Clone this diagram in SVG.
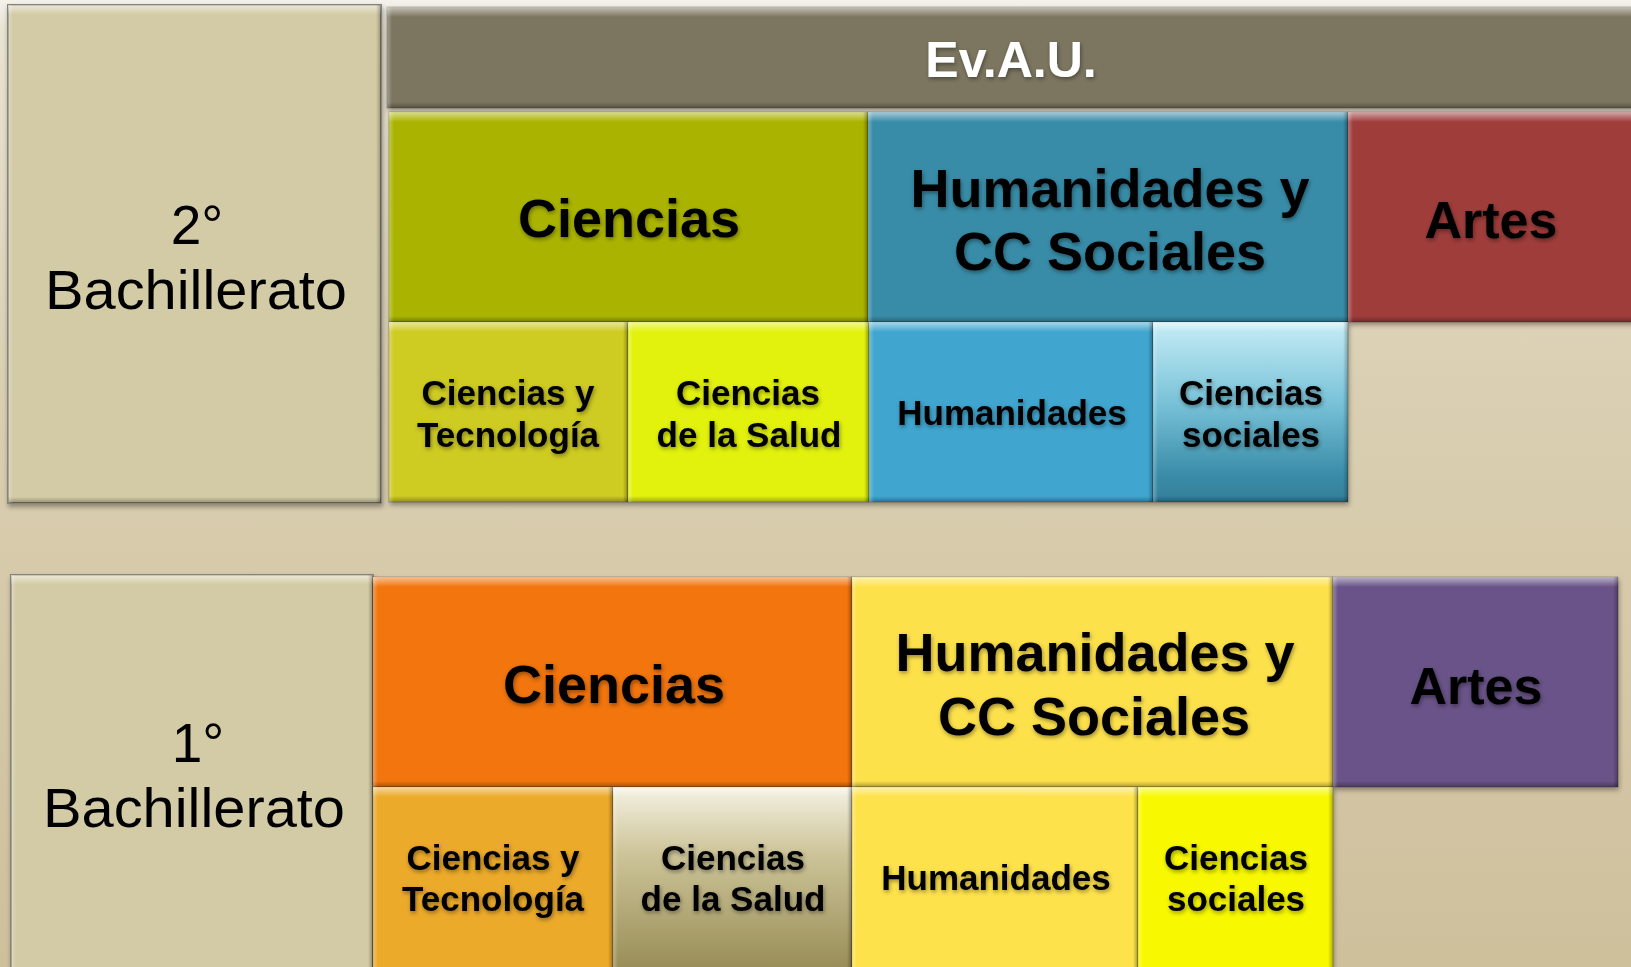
<svg xmlns="http://www.w3.org/2000/svg" width="1631" height="967" viewBox="0 0 1631 967">
<defs>
<linearGradient id="bg" x1="0" y1="0" x2="0" y2="1">
<stop offset="0" stop-color="#f5f2ec"/><stop offset="0.03" stop-color="#e9e3d2"/><stop offset="0.4" stop-color="#dacfb2"/><stop offset="1" stop-color="#cfc09c"/>
</linearGradient>
<linearGradient id="hiT" x1="0" y1="0" x2="0" y2="1"><stop offset="0" stop-color="#fff" stop-opacity="0.55"/><stop offset="1" stop-color="#fff" stop-opacity="0"/></linearGradient>
<linearGradient id="shB" x1="0" y1="0" x2="0" y2="1"><stop offset="0" stop-color="#000" stop-opacity="0"/><stop offset="1" stop-color="#000" stop-opacity="0.3"/></linearGradient>
<linearGradient id="hiL" x1="0" y1="0" x2="1" y2="0"><stop offset="0" stop-color="#fff" stop-opacity="0.3"/><stop offset="1" stop-color="#fff" stop-opacity="0"/></linearGradient>
<linearGradient id="shR" x1="0" y1="0" x2="1" y2="0"><stop offset="0" stop-color="#000" stop-opacity="0"/><stop offset="1" stop-color="#000" stop-opacity="0.28"/></linearGradient>
<linearGradient id="gSoc2" x1="0" y1="0" x2="0" y2="1"><stop offset="0" stop-color="#c6ecf5"/><stop offset="0.45" stop-color="#78c2d8"/><stop offset="0.85" stop-color="#3a8ca8"/><stop offset="1" stop-color="#347f98"/></linearGradient>
<linearGradient id="gSal1" x1="0" y1="0" x2="0" y2="1"><stop offset="0" stop-color="#f4f1e2"/><stop offset="0.35" stop-color="#cdc499"/><stop offset="1" stop-color="#958a52"/></linearGradient>
<filter id="ds" x="-5%" y="-5%" width="110%" height="115%"><feDropShadow dx="1" dy="3" stdDeviation="2.5" flood-color="#000" flood-opacity="0.35"/></filter>
<filter id="ts" x="-10%" y="-20%" width="120%" height="150%"><feDropShadow dx="1" dy="2" stdDeviation="2" flood-color="#000" flood-opacity="0.4"/></filter>
</defs>
<style>
.box{stroke:#000;stroke-opacity:0.22;stroke-width:1;filter:url(#ds)}
.bbox{stroke:#85837a;stroke-width:2;filter:url(#ds)}
.big{font-family:"Liberation Sans",Arial,sans-serif;font-weight:bold;font-size:54px;text-anchor:middle;fill:#000;filter:url(#ts)}
.sub{font-family:"Liberation Sans",Arial,sans-serif;font-weight:bold;font-size:35px;text-anchor:middle;fill:#000;filter:url(#ts)}
.ev{font-family:"Liberation Sans",Arial,sans-serif;font-weight:bold;font-size:50px;text-anchor:middle;fill:#fff;filter:url(#ts)}
.bach{font-family:"Liberation Sans",Arial,sans-serif;font-weight:normal;font-size:55px;text-anchor:middle;fill:#000}
</style>
<rect x="0" y="0" width="1631" height="967" fill="url(#bg)"/>

<g id="bach2">
<rect class="bbox" x="8" y="5" width="373" height="498" fill="#d3cba5"/>
<rect x="8" y="5" width="373" height="10" fill="url(#hiT)"/><rect x="8" y="497" width="373" height="6" fill="url(#shB)"/><rect x="8" y="5" width="5" height="498" fill="url(#hiL)"/><rect x="376" y="5" width="5" height="498" fill="url(#shR)"/>
<text class="bach" x="197" y="244">2°</text>
<text class="bach" x="196" y="309" textLength="302" lengthAdjust="spacingAndGlyphs">Bachillerato</text>
</g>

<g id="evau">
<rect class="box" x="387" y="7" width="1250" height="101" fill="#7b7661"/>
<rect x="387" y="7" width="1250" height="10" fill="url(#hiT)"/><rect x="387" y="102" width="1250" height="6" fill="url(#shB)"/><rect x="387" y="7" width="5" height="101" fill="url(#hiL)"/>
<text class="ev" x="1011" y="77">Ev.A.U.</text>
</g>

<g id="ciencias2">
<rect class="box" x="389" y="112" width="479" height="210" fill="#aab405"/>
<rect x="389" y="112" width="479" height="10" fill="url(#hiT)"/><rect x="389" y="316" width="479" height="6" fill="url(#shB)"/><rect x="389" y="112" width="5" height="210" fill="url(#hiL)"/><rect x="863" y="112" width="5" height="210" fill="url(#shR)"/>
<text class="big" x="629" y="237">Ciencias</text>
</g>

<g id="human2">
<rect class="box" x="868" y="112" width="480" height="210" fill="#388ca8"/>
<rect x="868" y="112" width="480" height="10" fill="url(#hiT)"/><rect x="868" y="316" width="480" height="6" fill="url(#shB)"/><rect x="868" y="112" width="5" height="210" fill="url(#hiL)"/><rect x="1343" y="112" width="5" height="210" fill="url(#shR)"/>
<text class="big" x="1110" y="207">Humanidades y</text>
<text class="big" x="1110" y="270">CC Sociales</text>
</g>

<g id="artes2">
<rect class="box" x="1348" y="112" width="289" height="210" fill="#9f3c3b"/>
<rect x="1348" y="112" width="289" height="10" fill="url(#hiT)"/><rect x="1348" y="316" width="289" height="6" fill="url(#shB)"/><rect x="1348" y="112" width="5" height="210" fill="url(#hiL)"/>
<text class="big" x="1491" y="238" style="font-size:52px">Artes</text>
</g>

<g id="ctec2">
<rect class="box" x="389" y="322" width="239" height="180" fill="#cecb20"/>
<rect x="389" y="322" width="239" height="10" fill="url(#hiT)"/><rect x="389" y="496" width="239" height="6" fill="url(#shB)"/><rect x="389" y="322" width="5" height="180" fill="url(#hiL)"/><rect x="623" y="322" width="5" height="180" fill="url(#shR)"/>
<text class="sub" x="508" y="405">Ciencias y</text>
<text class="sub" x="508" y="447">Tecnología</text>
</g>

<g id="csal2">
<rect class="box" x="628" y="322" width="241" height="180" fill="#e2f208"/>
<rect x="628" y="322" width="241" height="10" fill="url(#hiT)"/><rect x="628" y="496" width="241" height="6" fill="url(#shB)"/><rect x="628" y="322" width="5" height="180" fill="url(#hiL)"/><rect x="864" y="322" width="5" height="180" fill="url(#shR)"/>
<text class="sub" x="748" y="405">Ciencias</text>
<text class="sub" x="749" y="447">de la Salud</text>
</g>

<g id="hum2">
<rect class="box" x="869" y="322" width="284" height="180" fill="#41a6cf"/>
<rect x="869" y="322" width="284" height="10" fill="url(#hiT)"/><rect x="869" y="496" width="284" height="6" fill="url(#shB)"/><rect x="869" y="322" width="5" height="180" fill="url(#hiL)"/><rect x="1148" y="322" width="5" height="180" fill="url(#shR)"/>
<text class="sub" x="1012" y="425">Humanidades</text>
</g>

<g id="csoc2">
<rect class="box" x="1153" y="322" width="195" height="180" fill="url(#gSoc2)"/>
<rect x="1153" y="322" width="195" height="10" fill="url(#hiT)"/><rect x="1153" y="496" width="195" height="6" fill="url(#shB)"/><rect x="1153" y="322" width="5" height="180" fill="url(#hiL)"/><rect x="1343" y="322" width="5" height="180" fill="url(#shR)"/>
<text class="sub" x="1251" y="405">Ciencias</text>
<text class="sub" x="1251" y="447">sociales</text>
</g>

<g id="bach1">
<rect class="bbox" x="11" y="575" width="362" height="400" fill="#d3cba5"/>
<rect x="11" y="575" width="362" height="10" fill="url(#hiT)"/><rect x="11" y="575" width="5" height="400" fill="url(#hiL)"/><rect x="368" y="575" width="5" height="400" fill="url(#shR)"/>
<text class="bach" x="198" y="762">1°</text>
<text class="bach" x="194" y="827" textLength="302" lengthAdjust="spacingAndGlyphs">Bachillerato</text>
</g>

<g id="ciencias1">
<rect class="box" x="373" y="577" width="479" height="210" fill="#f27511"/>
<rect x="373" y="577" width="479" height="10" fill="url(#hiT)"/><rect x="373" y="781" width="479" height="6" fill="url(#shB)"/><rect x="373" y="577" width="5" height="210" fill="url(#hiL)"/><rect x="847" y="577" width="5" height="210" fill="url(#shR)"/>
<text class="big" x="614" y="703">Ciencias</text>
</g>

<g id="human1">
<rect class="box" x="852" y="577" width="481" height="210" fill="#fde14b"/>
<rect x="852" y="577" width="481" height="10" fill="url(#hiT)"/><rect x="852" y="781" width="481" height="6" fill="url(#shB)"/><rect x="852" y="577" width="5" height="210" fill="url(#hiL)"/><rect x="1328" y="577" width="5" height="210" fill="url(#shR)"/>
<text class="big" x="1095" y="671">Humanidades y</text>
<text class="big" x="1094" y="735">CC Sociales</text>
</g>

<g id="artes1">
<rect class="box" x="1333" y="577" width="285" height="210" fill="#695388"/>
<rect x="1333" y="577" width="285" height="10" fill="url(#hiT)"/><rect x="1333" y="781" width="285" height="6" fill="url(#shB)"/><rect x="1333" y="577" width="5" height="210" fill="url(#hiL)"/><rect x="1613" y="577" width="5" height="210" fill="url(#shR)"/>
<text class="big" x="1476" y="704" style="font-size:52px">Artes</text>
</g>

<g id="ctec1">
<rect class="box" x="373" y="787" width="240" height="190" fill="#ecaa2b"/>
<rect x="373" y="787" width="240" height="10" fill="url(#hiT)"/><rect x="373" y="787" width="5" height="190" fill="url(#hiL)"/><rect x="608" y="787" width="5" height="190" fill="url(#shR)"/>
<text class="sub" x="493" y="870">Ciencias y</text>
<text class="sub" x="493" y="911">Tecnología</text>
</g>

<g id="csal1">
<rect class="box" x="613" y="787" width="239" height="190" fill="url(#gSal1)"/>
<rect x="613" y="787" width="239" height="10" fill="url(#hiT)"/><rect x="613" y="787" width="5" height="190" fill="url(#hiL)"/><rect x="847" y="787" width="5" height="190" fill="url(#shR)"/>
<text class="sub" x="733" y="870">Ciencias</text>
<text class="sub" x="733" y="911">de la Salud</text>
</g>

<g id="hum1">
<rect class="box" x="852" y="787" width="286" height="190" fill="#fee24c"/>
<rect x="852" y="787" width="286" height="10" fill="url(#hiT)"/><rect x="852" y="787" width="5" height="190" fill="url(#hiL)"/><rect x="1133" y="787" width="5" height="190" fill="url(#shR)"/>
<text class="sub" x="996" y="890">Humanidades</text>
</g>

<g id="csoc1">
<rect class="box" x="1138" y="787" width="195" height="190" fill="#f8f902"/>
<rect x="1138" y="787" width="195" height="10" fill="url(#hiT)"/><rect x="1138" y="787" width="5" height="190" fill="url(#hiL)"/><rect x="1328" y="787" width="5" height="190" fill="url(#shR)"/>
<text class="sub" x="1236" y="870">Ciencias</text>
<text class="sub" x="1236" y="911">sociales</text>
</g>

<g id="connectors"/>
</svg>
